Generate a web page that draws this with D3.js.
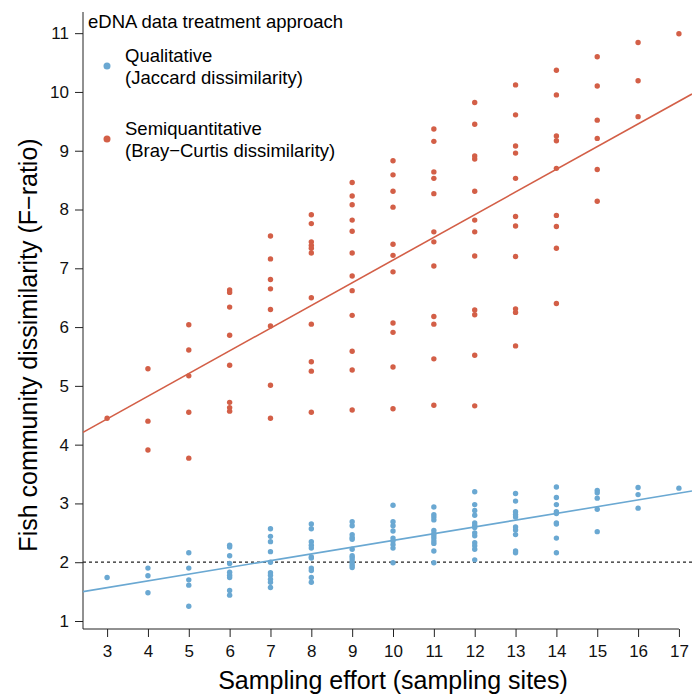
<!DOCTYPE html>
<html>
<head>
<meta charset="utf-8">
<script src="https://cdnjs.cloudflare.com/ajax/libs/d3/7.8.5/d3.min.js"></script>
<style>
  body { margin: 0; background: #fff; }
  svg { display: block; font-family: "Liberation Sans", Arial, Helvetica, sans-serif; }
  .axis text { font-size: 17px; fill: #111; }
  .axis line { stroke: #222; }
</style>
</head>
<body>
<svg width="693" height="695"></svg>
<script>
// Sampling effort (number of sites) on the x axis
var effort = [3, 4, 5, 6, 7, 8, 9, 10, 11, 12, 13, 14, 15, 16, 17];

// Qualitative (Jaccard) F-ratios, one list per effort level
var jaccard = [
  [1.74],
  [1.90, 1.77, 1.48],
  [2.16, 1.90, 1.70, 1.61, 1.25],
  [2.29, 2.26, 2.11, 1.98, 1.83, 1.78, 1.74, 1.52, 1.44],
  [2.57, 2.44, 2.35, 2.18, 2.00, 1.82, 1.78, 1.71, 1.66, 1.57],
  [2.65, 2.57, 2.35, 2.29, 2.24, 2.09, 2.07, 1.90, 1.86, 1.74, 1.66],
  [2.69, 2.62, 2.47, 2.42, 2.39, 2.22, 2.11, 2.08, 2.04, 1.99, 1.95, 1.91],
  [2.97, 2.69, 2.62, 2.53, 2.41, 2.36, 2.30, 2.24, 1.99],
  [2.94, 2.81, 2.77, 2.72, 2.54, 2.49, 2.45, 2.41, 2.36, 2.32, 2.19, 1.99],
  [3.20, 2.98, 2.88, 2.80, 2.67, 2.63, 2.59, 2.50, 2.45, 2.33, 2.28, 2.22, 2.04],
  [3.17, 3.04, 2.86, 2.81, 2.77, 2.60, 2.55, 2.47, 2.19, 2.16],
  [3.28, 3.10, 2.98, 2.86, 2.83, 2.67, 2.65, 2.41, 2.16],
  [3.22, 3.18, 3.09, 2.90, 2.52],
  [3.27, 3.15, 2.92],
  [3.26]
];

// Semiquantitative (Bray-Curtis) F-ratios
var brayCurtis = [
  [4.45],
  [5.29, 4.40, 3.91],
  [6.04, 5.61, 5.17, 4.55, 3.77],
  [6.63, 6.59, 6.34, 5.86, 5.35, 4.72, 4.63, 4.57],
  [7.55, 7.16, 6.81, 6.65, 6.30, 6.02, 5.01, 4.45],
  [7.91, 7.76, 7.45, 7.39, 7.34, 7.26, 6.50, 6.05, 5.41, 5.25, 4.55],
  [8.46, 8.23, 8.08, 7.82, 7.63, 7.26, 6.87, 6.62, 6.20, 5.59, 5.27, 4.59],
  [8.83, 8.59, 8.31, 8.04, 7.41, 7.22, 6.94, 6.07, 5.91, 5.32, 4.61],
  [9.37, 9.16, 8.64, 8.53, 8.27, 7.62, 7.45, 7.04, 6.18, 6.05, 5.46, 4.67],
  [9.82, 9.45, 8.91, 8.86, 8.31, 7.82, 7.62, 7.21, 6.29, 6.21, 5.52, 4.66],
  [10.12, 9.61, 9.08, 8.96, 8.53, 7.88, 7.72, 7.20, 6.31, 6.25, 5.68],
  [10.37, 9.95, 9.25, 9.17, 8.70, 7.90, 7.71, 7.34, 6.40],
  [10.60, 10.10, 9.52, 9.21, 8.68, 8.14],
  [10.84, 10.19, 9.58],
  [10.99]
];

// Fitted lines: [intercept, slope]
var jaccardFit = [1.224, 0.1147];
var brayFit = [3.28, 0.386];

var yTicks = [1, 2, 3, 4, 5, 6, 7, 8, 9, 10, 11];
var refLine = 2;

var seriesNames = ["Qualitative", "Semiquantitative"];
var seriesSub = ["(Jaccard dissimilarity)", "(Bray\u2212Curtis dissimilarity)"];
var colors = ["#6aa8d2", "#d35f47"];

// Canvas - plot panel edges
var svg = d3.select("svg"),
    pLeft = 83, pRight = 692, pTop = 12, pBottom = 629;

var x = d3.scaleLinear().domain([2.41, 17.32]).range([pLeft, pRight]),
    y = d3.scaleLinear().domain([0.864, 11.36]).range([pBottom, pTop]);

svg.append("clipPath").attr("id", "clip")
  .append("rect").attr("x", pLeft).attr("y", pTop)
  .attr("width", pRight - pLeft).attr("height", pBottom - pTop);

// Axes
var gx = svg.append("g")
    .attr("class", "axis")
    .attr("transform", "translate(0," + pBottom + ")")
    .call(d3.axisBottom(x).tickValues(effort).tickSize(8).tickPadding(8).tickFormat(d3.format("d")));
gx.select(".domain").remove();
gx.append("line").attr("x1", pLeft).attr("x2", x(17)).attr("stroke", "#222");

var gy = svg.append("g")
    .attr("class", "axis")
    .attr("transform", "translate(" + pLeft + ",0)")
    .call(d3.axisLeft(y).tickValues(yTicks).tickSize(8).tickPadding(6).tickFormat(d3.format("d")));
gy.select(".domain").remove();
gy.append("line").attr("y1", pTop).attr("y2", pBottom).attr("stroke", "#222");

// Axis titles
svg.append("text")
    .attr("x", 393).attr("y", 689)
    .attr("text-anchor", "middle")
    .style("font-size", "25px")
    .text("Sampling effort (sampling sites)");

svg.append("text")
    .attr("transform", "translate(37,345) rotate(-90)")
    .attr("text-anchor", "middle")
    .style("font-size", "25px")
    .text("Fish community dissimilarity (F\u2212ratio)");

var plot = svg.append("g").attr("clip-path", "url(#clip)");

// dashed reference line
plot.append("line")
    .attr("x1", pLeft).attr("x2", pRight)
    .attr("y1", y(refLine)).attr("y2", y(refLine))
    .attr("stroke", "#222").attr("stroke-width", 1.2)
    .attr("stroke-dasharray", "3,3");

// fitted lines
[jaccardFit, brayFit].forEach(function(f, i) {
  var xs = x.domain();
  plot.append("line")
      .attr("x1", x(xs[0])).attr("y1", y(f[0] + f[1] * xs[0]))
      .attr("x2", x(xs[1])).attr("y2", y(f[0] + f[1] * xs[1]))
      .attr("stroke", colors[i]).attr("stroke-width", 1.6);
});

// points
[jaccard, brayCurtis].forEach(function(series, i) {
  var pts = [];
  series.forEach(function(vals, j) {
    vals.forEach(function(v) { pts.push({e: effort[j], v: v}); });
  });
  plot.selectAll(".dot" + i)
    .data(pts)
    .enter().append("circle")
      .attr("class", "dot" + i)
      .attr("cx", function(d) { return x(d.e); })
      .attr("cy", function(d) { return y(d.v); })
      .attr("r", 2.7)
      .attr("fill", colors[i]);
});

// Legend
var legend = svg.append("g").style("font-size", "18.5px");
legend.append("text").attr("x", 88).attr("y", 28).text("eDNA data treatment approach");

[62, 135].forEach(function(yy, i) {
  legend.append("circle").attr("cx", 107).attr("cy", yy + 4).attr("r", 3.5).attr("fill", colors[i]);
  legend.append("text").attr("x", 125).attr("y", yy).text(seriesNames[i]);
  legend.append("text").attr("x", 125).attr("y", yy + 22).text(seriesSub[i]);
});
</script>
</body>
</html>
